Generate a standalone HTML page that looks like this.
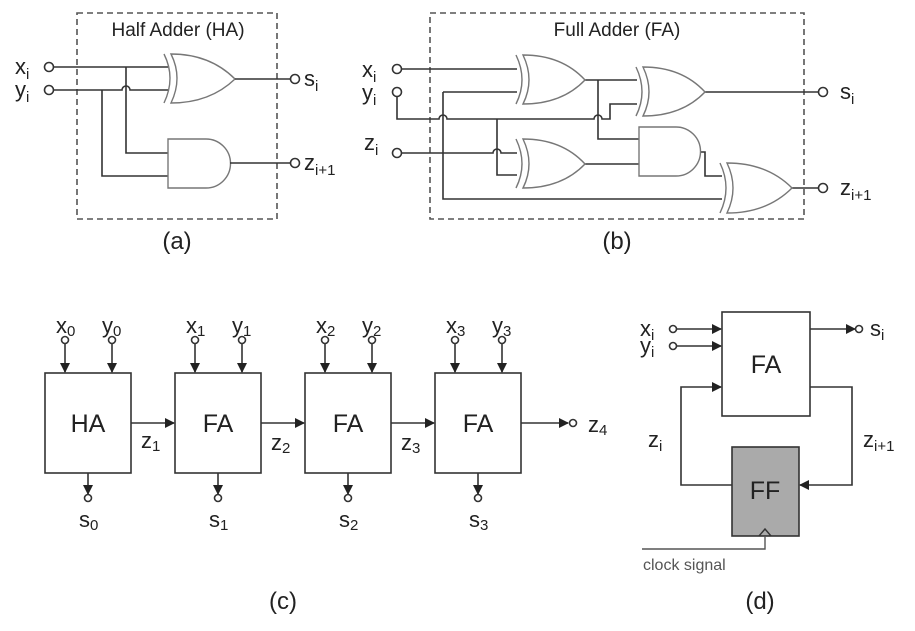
<!DOCTYPE html>
<html><head><meta charset="utf-8"><style>
html,body{margin:0;padding:0;background:#fff;}
svg{display:block;font-family:"Liberation Sans",sans-serif;}
.w{stroke:#333;stroke-width:1.6;fill:none;}
.g{stroke:#777;stroke-width:1.4;fill:#fff;}
.gb{stroke:#777;stroke-width:1.4;fill:none;}
.c{stroke:#333;stroke-width:1.6;fill:#fff;}
.d{stroke:#555;stroke-width:1.6;fill:none;stroke-dasharray:6,4;}
text{fill:#222;font-size:22px;}
.s{font-size:15px;}
</style></head><body>
<svg width="915" height="631" viewBox="0 0 915 631" xmlns="http://www.w3.org/2000/svg">
<defs>
<marker id="ar" markerWidth="10" markerHeight="10" refX="9" refY="5" orient="auto" markerUnits="userSpaceOnUse"><path d="M0,0 L10,5 L0,10 Z" fill="#222"/></marker>
</defs>

<!-- ===== (a) ===== -->
<rect class="d" x="77" y="13" width="200" height="206"/>
<text x="178" y="36" text-anchor="middle" style="font-size:19px">Half Adder (HA)</text>
<text x="15" y="74">x<tspan class="s" dy="5">i</tspan></text>
<text x="15" y="97">y<tspan class="s" dy="5">i</tspan></text>
<circle class="c" cx="49" cy="67" r="4.5"/>
<circle class="c" cx="49" cy="90" r="4.5"/>
<path class="w" d="M53.5,67 H168"/>
<path class="w" d="M53.5,90 H122 A4,4 0 0 1 130,90 H168"/>
<path class="w" d="M126,67 V153 H168"/>
<path class="w" d="M102,90 V176 H168"/>
<!-- XOR -->
<path class="gb" d="M164,54 Q176,78 164,103"/>
<path class="g" d="M171,54 Q210,54 235,79 Q210,103 171,103 Q183,78 171,54 Z"/>
<path class="w" d="M235,79 H290"/>
<circle class="c" cx="295" cy="79" r="4.5"/>
<!-- AND -->
<path class="g" d="M168,139 H206 A24.5,24.5 0 0 1 206,188 H168 Z"/>
<path class="w" d="M230,163 H290"/>
<circle class="c" cx="295" cy="163" r="4.5"/>
<text x="304" y="86">s<tspan class="s" dy="5">i</tspan></text>
<text x="304" y="170">z<tspan class="s" dy="5">i+1</tspan></text>
<text x="177" y="249" text-anchor="middle" style="font-size:24px">(a)</text>

<!-- ===== (b) ===== -->
<rect class="d" x="430" y="13" width="374" height="206"/>
<text x="617" y="36" text-anchor="middle" style="font-size:19px">Full Adder (FA)</text>
<text x="362" y="77">x<tspan class="s" dy="5">i</tspan></text>
<text x="362" y="100">y<tspan class="s" dy="5">i</tspan></text>
<text x="364" y="150">z<tspan class="s" dy="5">i</tspan></text>
<circle class="c" cx="397" cy="69" r="4.5"/>
<circle class="c" cx="397" cy="92" r="4.5"/>
<circle class="c" cx="397" cy="153" r="4.5"/>
<path class="w" d="M401.5,69 H517"/>
<path class="w" d="M443,92 H517"/>
<path class="w" d="M443,92 V199 H722"/>
<path class="w" d="M397,96.5 V119 H439 A4,4 0 0 1 447,119 H594 A4,4 0 0 1 602,119 H610 V104 H637"/>
<path class="w" d="M497,119 V175 H517"/>
<path class="w" d="M401.5,153 H493 A4,4 0 0 1 501,153 H517"/>
<path class="w" d="M584,80 H637"/>
<path class="w" d="M598,80 V139 H639"/>
<path class="w" d="M584,164 H639"/>
<path class="w" d="M700,152 H705 V176 H722"/>
<path class="w" d="M705,92 H818"/>
<path class="w" d="M792,188 H818"/>
<circle class="c" cx="823" cy="92" r="4.5"/>
<circle class="c" cx="823" cy="188" r="4.5"/>
<text x="840" y="99">s<tspan class="s" dy="5">i</tspan></text>
<text x="840" y="195">z<tspan class="s" dy="5">i+1</tspan></text>
<!-- XOR1 -->
<path class="gb" d="M516,55 Q528,80 516,104"/>
<path class="g" d="M523,55 Q562,55 585,80 Q562,104 523,104 Q535,80 523,55 Z"/>
<!-- XOR2 -->
<path class="gb" d="M636,67 Q648,92 636,116"/>
<path class="g" d="M643,67 Q682,67 705,92 Q682,116 643,116 Q655,92 643,67 Z"/>
<!-- XOR3 -->
<path class="gb" d="M516,139 Q528,164 516,188"/>
<path class="g" d="M523,139 Q562,139 585,164 Q562,188 523,188 Q535,164 523,139 Z"/>
<!-- AND -->
<path class="g" d="M639,127 H676 A24.5,24.5 0 0 1 676,176 H639 Z"/>
<!-- XOR4 -->
<path class="gb" d="M720,163 Q732,188 720,213"/>
<path class="g" d="M727,163 Q767,163 792,188 Q767,213 727,213 Q739,188 727,163 Z"/>
<text x="617" y="249" text-anchor="middle" style="font-size:24px">(b)</text>

<!-- ===== (c) ===== -->
<g>
<rect class="w" x="45" y="373" width="86" height="100"/>
<text x="88" y="432" text-anchor="middle" style="font-size:25px">HA</text>
<rect class="w" x="175" y="373" width="86" height="100"/>
<text x="218" y="432" text-anchor="middle" style="font-size:25px">FA</text>
<rect class="w" x="305" y="373" width="86" height="100"/>
<text x="348" y="432" text-anchor="middle" style="font-size:25px">FA</text>
<rect class="w" x="435" y="373" width="86" height="100"/>
<text x="478" y="432" text-anchor="middle" style="font-size:25px">FA</text>
</g>
<!-- inputs -->
<g>
<circle class="c" cx="65" cy="340" r="3.5"/><path class="w" d="M65,343.5 V372" marker-end="url(#ar)"/>
<circle class="c" cx="112" cy="340" r="3.5"/><path class="w" d="M112,343.5 V372" marker-end="url(#ar)"/>
<circle class="c" cx="195" cy="340" r="3.5"/><path class="w" d="M195,343.5 V372" marker-end="url(#ar)"/>
<circle class="c" cx="242" cy="340" r="3.5"/><path class="w" d="M242,343.5 V372" marker-end="url(#ar)"/>
<circle class="c" cx="325" cy="340" r="3.5"/><path class="w" d="M325,343.5 V372" marker-end="url(#ar)"/>
<circle class="c" cx="372" cy="340" r="3.5"/><path class="w" d="M372,343.5 V372" marker-end="url(#ar)"/>
<circle class="c" cx="455" cy="340" r="3.5"/><path class="w" d="M455,343.5 V372" marker-end="url(#ar)"/>
<circle class="c" cx="502" cy="340" r="3.5"/><path class="w" d="M502,343.5 V372" marker-end="url(#ar)"/>
</g>
<text x="56" y="333">x<tspan class="s" dy="3">0</tspan></text>
<text x="102" y="333">y<tspan class="s" dy="3">0</tspan></text>
<text x="186" y="333">x<tspan class="s" dy="3">1</tspan></text>
<text x="232" y="333">y<tspan class="s" dy="3">1</tspan></text>
<text x="316" y="333">x<tspan class="s" dy="3">2</tspan></text>
<text x="362" y="333">y<tspan class="s" dy="3">2</tspan></text>
<text x="446" y="333">x<tspan class="s" dy="3">3</tspan></text>
<text x="492" y="333">y<tspan class="s" dy="3">3</tspan></text>
<!-- carries -->
<path class="w" d="M131,423 H174" marker-end="url(#ar)"/>
<path class="w" d="M261,423 H304" marker-end="url(#ar)"/>
<path class="w" d="M391,423 H434" marker-end="url(#ar)"/>
<path class="w" d="M521,423 H568" marker-end="url(#ar)"/>
<circle class="c" cx="573" cy="423" r="3.5"/>
<text x="141" y="448">z<tspan class="s" dy="3">1</tspan></text>
<text x="271" y="450">z<tspan class="s" dy="3">2</tspan></text>
<text x="401" y="450">z<tspan class="s" dy="3">3</tspan></text>
<text x="588" y="432">z<tspan class="s" dy="3">4</tspan></text>
<!-- sums -->
<path class="w" d="M88,473 V494" marker-end="url(#ar)"/><circle class="c" cx="88" cy="498" r="3.5"/>
<path class="w" d="M218,473 V494" marker-end="url(#ar)"/><circle class="c" cx="218" cy="498" r="3.5"/>
<path class="w" d="M348,473 V494" marker-end="url(#ar)"/><circle class="c" cx="348" cy="498" r="3.5"/>
<path class="w" d="M478,473 V494" marker-end="url(#ar)"/><circle class="c" cx="478" cy="498" r="3.5"/>
<text x="79" y="527">s<tspan class="s" dy="3">0</tspan></text>
<text x="209" y="527">s<tspan class="s" dy="3">1</tspan></text>
<text x="339" y="527">s<tspan class="s" dy="3">2</tspan></text>
<text x="469" y="527">s<tspan class="s" dy="3">3</tspan></text>
<text x="283" y="609" text-anchor="middle" style="font-size:24px">(c)</text>

<!-- ===== (d) ===== -->
<rect class="w" x="722" y="312" width="88" height="104"/>
<text x="766" y="373" text-anchor="middle" style="font-size:25px">FA</text>
<rect x="732" y="447" width="67" height="89" fill="#aaa" stroke="#333" stroke-width="1.6"/>
<text x="765" y="499" text-anchor="middle" style="font-size:25px">FF</text>
<circle class="c" cx="673" cy="329" r="3.5"/>
<circle class="c" cx="673" cy="346" r="3.5"/>
<path class="w" d="M676.5,329 H721" marker-end="url(#ar)"/>
<path class="w" d="M676.5,346 H721" marker-end="url(#ar)"/>
<text x="640" y="336">x<tspan class="s" dy="4">i</tspan></text>
<text x="640" y="353">y<tspan class="s" dy="4">i</tspan></text>
<path class="w" d="M810,329 H855" marker-end="url(#ar)"/>
<circle class="c" cx="859" cy="329" r="3.5"/>
<text x="870" y="336">s<tspan class="s" dy="4">i</tspan></text>
<path class="w" d="M732,485 H681 V387 H721" marker-end="url(#ar)"/>
<path class="w" d="M810,387 H852 V485 H800" marker-end="url(#ar)"/>
<text x="648" y="447">z<tspan class="s" dy="4">i</tspan></text>
<text x="863" y="447">z<tspan class="s" dy="4">i+1</tspan></text>
<path d="M642,549 H765 V536" stroke="#555" stroke-width="1.4" fill="none"/>
<path d="M759,536 L765,529 L771,536" stroke="#333" stroke-width="1.4" fill="none"/>
<text x="643" y="570" style="font-size:16px;fill:#555">clock signal</text>
<text x="760" y="609" text-anchor="middle" style="font-size:24px">(d)</text>
</svg>
</body></html>
